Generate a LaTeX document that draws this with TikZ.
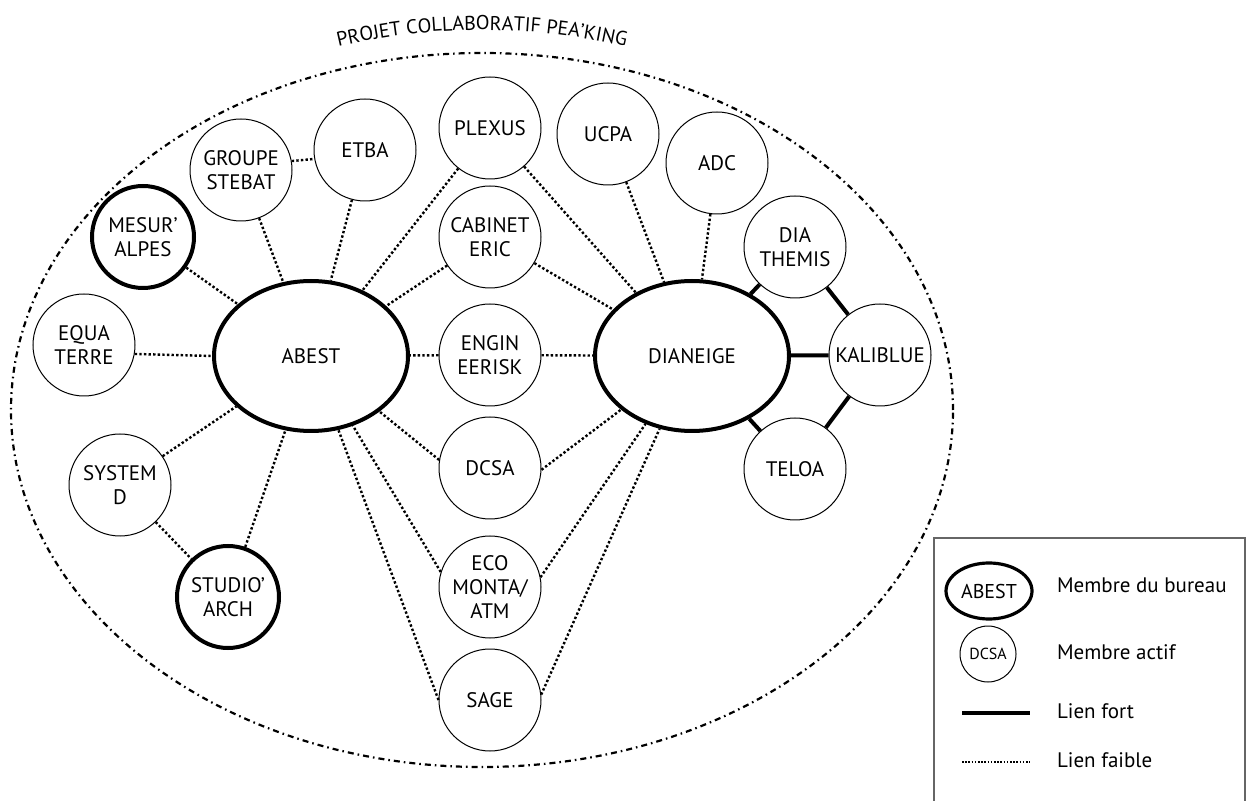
\documentclass[tikz,border=0pt]{standalone}
\usepackage{fontspec}
\setmainfont{PT Sans}
\usetikzlibrary{shapes.geometric,decorations.text}
\tikzset{
  membre/.style={circle, draw, line width=0.5pt, minimum size=51pt, inner sep=0pt,
    align=center, font=\fontsize{10.5}{12}\selectfont},
  bureau/.style={membre, line width=2pt},
  pole/.style={ellipse, draw, line width=2pt, minimum width=97pt, minimum height=75pt,
    inner sep=0pt, font=\fontsize{10.5}{12}\selectfont},
  faible/.style={line width=1.2pt, dash pattern=on 1.2pt off 1.1pt},
  fort/.style={line width=2pt},
  legtext/.style={anchor=west, font=\fontsize{10.5}{12}\selectfont},
}
\begin{document}
\begin{tikzpicture}[x=0.5pt,y=-0.5pt]
    \useasboundingbox (0,0) rectangle (1247,801);
    % Projet
    \draw[line width=1.1pt, dash pattern=on 3pt off 2pt on 0.8pt off 2pt]
        (482,410) ellipse [x radius=235.5pt, y radius=178.5pt];
    \path[decorate, decoration={text along path, text align=center,
        text={|\fontsize{10}{10}\selectfont|PROJET COLLABORATIF PEA’KING}}]
        (482,410) ++(110:245pt and 190pt) arc [start angle=110, end angle=70, x radius=245pt, y radius=190pt];
    % Membres du bureau
    \node[pole] (abest) at (311,356) {ABEST};
    \node[pole] (dianeige) at (692,356) {DIANEIGE};
    \node[bureau] (mesur) at (143,237) {MESUR’\\ALPES};
    \node[bureau] (studio) at (228,597) {STUDIO’\\ARCH};
    % Membres actifs
    \node[membre] (equa) at (84,345) {EQUA\\TERRE};
    \node[membre] (sysd) at (120,485) {SYSTEM\\D};
    \node[membre] (groupe) at (241,170) {GROUPE\\STEBAT};
    \node[membre] (etba) at (365,150) {ETBA};
    \node[membre] (plexus) at (490,128) {PLEXUS};
    \node[membre] (cabinet) at (490,237) {CABINET\\ERIC};
    \node[membre] (engin) at (490,355) {ENGIN\\EERISK};
    \node[membre] (dcsa) at (490,468) {DCSA};
    \node[membre] (eco) at (490,587) {ECO\\MONTA/\\ATM};
    \node[membre] (sage) at (490,700) {SAGE};
    \node[membre] (ucpa) at (608,134) {UCPA};
    \node[membre] (adc) at (717,163) {ADC};
    \node[membre] (diathemis) at (795,247) {DIA\\THEMIS};
    \node[membre] (kaliblue) at (880,355) {KALIBLUE};
    \node[membre] (teloa) at (795,469) {TELOA};
    % Liens faibles
    \draw[faible] (mesur) -- (abest);
    \draw[faible] (equa.-10) -- (abest.west);
    \draw[faible] (sysd) -- (abest);
    \draw[faible] (sysd) -- (studio);
    \draw[faible] (studio) -- (abest);
    \draw[faible] (groupe.10) -- (etba.190);
    \draw[faible] (groupe) -- (abest);
    \draw[faible] (etba) -- (abest);
    \draw[faible] (plexus) -- (abest);
    \draw[faible] (cabinet) -- (abest);
    \draw[faible] (engin) -- (abest);
    \draw[faible] (dcsa.171) -- (abest);
    \draw[faible] (eco.163) -- (abest);
    \draw[faible] (sage.180) -- (abest);
    \draw[faible] (plexus) -- (dianeige);
    \draw[faible] (cabinet) -- (dianeige);
    \draw[faible] (engin) -- (dianeige);
    \draw[faible] (dcsa.-2) -- (dianeige);
    \draw[faible] (eco.11) -- (dianeige);
    \draw[faible] (sage.6) -- (dianeige);
    \draw[faible] (ucpa) -- (dianeige);
    \draw[faible] (adc) -- (dianeige);
    % Liens forts
    \draw[fort] (diathemis) -- (dianeige);
    \draw[fort] (kaliblue) -- (dianeige);
    \draw[fort] (teloa) -- (dianeige);
    \draw[fort] (diathemis) -- (kaliblue);
    \draw[fort] (kaliblue) -- (teloa);
    % Legende
    \draw[line width=0.7pt, black!60] (934,801) -- (934,538) -- (1245,538) -- (1245,801);
    \node[pole, minimum width=43pt, minimum height=28pt, line width=1.6pt,
        font=\fontsize{10}{11}\selectfont] (legbureau) at (989,591) {ABEST};
    \node[membre, minimum size=28pt, font=\fontsize{8}{9}\selectfont] (legactif) at (988,654) {DCSA};
    \node[legtext] (txtbureau) at (1050,585) {Membre du bureau};
    \node[legtext] (txtactif) at (1050,652) {Membre actif};
    \node[legtext] (txtfort) at (1050,711) {Lien fort};
    \node[legtext] (txtfaible) at (1050,760) {Lien faible};
    \coordinate (fortA) at (962,713);
    \coordinate (fortB) at (1030,713);
    \coordinate (faibleA) at (962,762);
    \coordinate (faibleB) at (1030,762);
    \draw[fort] (fortA) -- (fortB);
    \draw[line width=0.8pt, dash pattern=on 0.8pt off 0.8pt] (faibleA) -- (faibleB);
\end{tikzpicture}
\end{document}
